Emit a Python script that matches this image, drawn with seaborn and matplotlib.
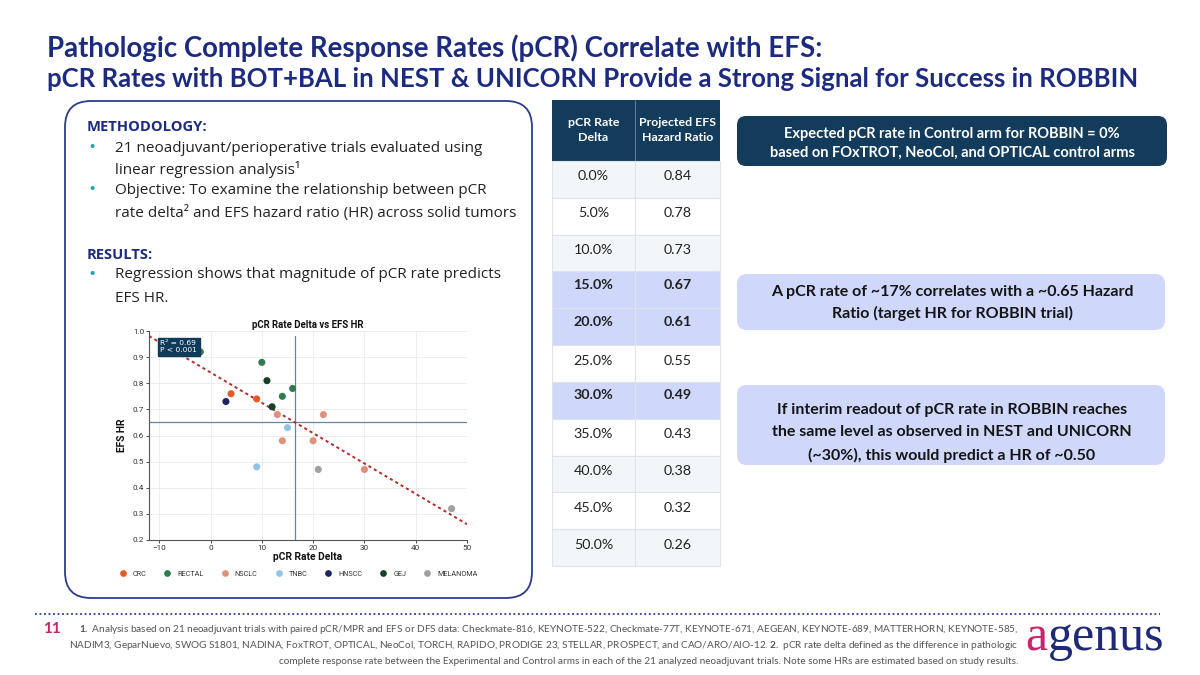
import numpy as np
import pandas as pd
import matplotlib
matplotlib.use("Agg")
import matplotlib.pyplot as plt
import seaborn as sns
from matplotlib.patches import FancyBboxPatch, Rectangle

# ---------------- data ----------------
CATEGORIES = ["CRC", "RECTAL", "NSCLC", "TNBC", "HNSCC", "GEJ", "MELANOMA"]
CAT_COLORS = ["#e35a2b", "#2f7a4e", "#e0917c", "#93c3e6", "#1b2660", "#183f2b", "#a0a0a0"]

trial_type = ["RECTAL", "RECTAL", "GEJ", "RECTAL", "RECTAL", "CRC", "CRC", "HNSCC", "GEJ",
              "NSCLC", "NSCLC", "TNBC", "NSCLC", "NSCLC", "TNBC", "MELANOMA", "NSCLC", "MELANOMA"]
pcr_delta = [-2, 10, 11, 16, 14, 4, 9, 3, 12, 13, 22, 15, 14, 20, 9, 21, 30, 47]
efs_hr = [0.92, 0.88, 0.81, 0.78, 0.75, 0.76, 0.74, 0.73, 0.71, 0.68, 0.68, 0.63, 0.58, 0.58,
          0.48, 0.47, 0.47, 0.32]

table_pcr = [0.0, 5.0, 10.0, 15.0, 20.0, 25.0, 30.0, 35.0, 40.0, 45.0, 50.0]
table_hr = [0.84, 0.78, 0.73, 0.67, 0.61, 0.55, 0.49, 0.43, 0.38, 0.32, 0.26]
highlight_pcr = [15.0, 20.0, 30.0]

TARGET_PCR = 16.5
TARGET_HR = 0.65
R2_TEXT = "R² = 0.69\nP < 0.001"

NAVY = "#1c2b80"
DARK = "#133b5c"
LAV = "#cfd7fb"

sns.set_theme(style="whitegrid")
plt.rcParams["font.family"] = ["Lato", "DejaVu Sans"]
plt.rcParams["mathtext.fontset"] = "custom"
plt.rcParams["mathtext.rm"] = "Lato"
plt.rcParams["mathtext.bf"] = "Lato:bold"

fig = plt.figure(figsize=(12, 6.75), dpi=100)
fig.patch.set_facecolor("white")
bg = fig.add_axes([0, 0, 1, 1])
bg.set_xlim(0, 1200)
bg.set_ylim(675, 0)
bg.axis("off")
renderer = fig.canvas.get_renderer()


def fit(t, width):
    w = t.get_window_extent(renderer).width
    t.set_fontsize(t.get_fontsize() * width / w)
    return t


def txt(x, y, s, size=12, **kw):
    kw.setdefault("va", "center")
    return bg.text(x, y, s, fontsize=size, **kw)


# ---------------- title ----------------
t1 = txt(47, 48, "Pathologic Complete Response Rates (pCR) Correlate with EFS:", 19,
         color=NAVY, fontweight="bold")
fit(t1, 775)
t2 = txt(47, 79, "pCR Rates with BOT+BAL in NEST & UNICORN Provide a Strong Signal for Success in ROBBIN", 19,
         color=NAVY, fontweight="bold")
fit(t2, 1088)

# ---------------- left panel ----------------
bg.add_patch(FancyBboxPatch((65, 101), 467, 497, boxstyle="round,pad=0,rounding_size=26",
                            fc="white", ec="#2d3b8e", lw=1.3, zorder=1))
body_font = ["Open Sans", "DejaVu Sans"]
ref = txt(115, 213, "rate delta² and EFS hazard ratio (HR) across solid tumors", 12,
          color="#222222", family=body_font, zorder=3)
fit(ref, 398)
bs = ref.get_fontsize()
h1 = txt(87, 127, "METHODOLOGY:", bs, color=NAVY, fontweight="bold", family=body_font, zorder=3)
fit(h1, 120)
for yy, s in [(148, "21 neoadjuvant/perioperative trials evaluated using"),
              (170, "linear regression analysis¹"),
              (190, "Objective: To examine the relationship between pCR"),
              (275, "Regression shows that magnitude of pCR rate predicts"),
              (298, "EFS HR.")]:
    txt(115, yy, s, bs, color="#222222", family=body_font, zorder=3)
for yy in [148, 190, 275]:
    txt(92, yy, "•", bs * 1.25, color="#2a9fb8", ha="center", family=body_font, zorder=3)
txt(87, 255, "RESULTS:", h1.get_fontsize(), color=NAVY, fontweight="bold", family=body_font, zorder=3)

# ---------------- table ----------------
tx0, tx1, tx2 = 552, 635, 720
bg.add_patch(Rectangle((tx0, 100), tx2 - tx0, 61, fc=DARK, ec="none", zorder=2))
bg.plot([tx1, tx1], [100, 161], color="#5d7a92", lw=0.8, zorder=3)
txt((tx0 + tx1) / 2, 130, "pCR Rate\nDelta", 8.9, color="white", fontweight="bold", ha="center",
    linespacing=1.35, zorder=3)
txt((tx1 + tx2) / 2, 130, "Projected EFS\nHazard Ratio", 8.9, color="white", fontweight="bold",
    ha="center", linespacing=1.35, zorder=3)
row_h = (566 - 161) / len(table_pcr)
for i, (p, hr) in enumerate(zip(table_pcr, table_hr)):
    y0 = 161 + i * row_h
    hl = p in highlight_pcr
    fc = LAV if hl else ("#f3f6f9" if i % 2 == 0 else "white")
    bg.add_patch(Rectangle((tx0, y0), tx2 - tx0, row_h, fc=fc, ec="#dfe4ea", lw=0.8, zorder=2))
    bg.plot([tx1, tx1], [y0, y0 + row_h], color="#dfe4ea", lw=0.8, zorder=3)
    dy = -5 if hl else -3
    w = "bold" if hl else "normal"
    txt((tx0 + tx1) / 2, y0 + row_h / 2 + dy, f"{p:.1f}%", 10.3, ha="center", color="#222222",
        fontweight=w, zorder=3)
    txt((tx1 + tx2) / 2, y0 + row_h / 2 + dy, f"{hr:.2f}", 10.3, ha="center", color="#222222",
        fontweight=w, zorder=3)

# ---------------- right boxes ----------------
bg.add_patch(FancyBboxPatch((737, 116), 430, 50, boxstyle="round,pad=0,rounding_size=9",
                            fc=DARK, ec="none", zorder=2))
b1 = txt(952, 134, "Expected pCR rate in Control arm for ROBBIN = 0%", 10, ha="center",
         color="white", fontweight="bold", zorder=3)
b2 = txt(952, 153, "based on FOxTROT, NeoCol, and OPTICAL control arms", 10, ha="center",
         color="white", fontweight="bold", zorder=3)
fit(b2, 365)
b1.set_fontsize(b2.get_fontsize())

bg.add_patch(FancyBboxPatch((737, 274), 428, 56, boxstyle="round,pad=0,rounding_size=10",
                            fc=LAV, ec="none", zorder=2))
c1 = txt(952, 292, "A pCR rate of ~17% correlates with a ~0.65 Hazard", 12, ha="center",
         color="#151515", fontweight="bold", zorder=3)
fit(c1, 361)
txt(952, 313, "Ratio (target HR for ROBBIN trial)", c1.get_fontsize(), ha="center",
    color="#151515", fontweight="bold", zorder=3)

bg.add_patch(FancyBboxPatch((737, 385), 428, 80, boxstyle="round,pad=0,rounding_size=10",
                            fc=LAV, ec="none", zorder=2))
d2 = txt(952, 432, "the same level as observed in NEST and UNICORN", 12, ha="center",
         color="#151515", fontweight="bold", zorder=3)
fit(d2, 360)
txt(952, 410, "If interim readout of pCR rate in ROBBIN reaches", d2.get_fontsize(), ha="center",
    color="#151515", fontweight="bold", zorder=3)
txt(952, 455, "(~30%), this would predict a HR of ~0.50", d2.get_fontsize(), ha="center",
    color="#151515", fontweight="bold", zorder=3)

# ---------------- footer ----------------
bg.plot([35, 1160], [614, 614], color="#2d3b8e", lw=1.3, linestyle=(0, (1, 1.5)))
txt(43, 629, "11", 11, color="#d0206a", fontweight="bold")
f1 = txt(1018, 629, r"$\bf{1.}$ Analysis based on 21 neoadjuvant trials with paired pCR/MPR and EFS or DFS data: "
         "Checkmate-816, KEYNOTE-522, Checkmate-77T, KEYNOTE-671, AEGEAN, KEYNOTE-689, MATTERHORN, KEYNOTE-585,",
         7.5, ha="right", color="#555555")
fit(f1, 930)
fs = f1.get_fontsize()
txt(1018, 645, r"NADIM3, GeparNuevo, SWOG S1801, NADINA, FoxTROT, OPTICAL, NeoCol, TORCH, RAPIDO, PRODIGE 23, "
    r"STELLAR, PROSPECT, and CAO/ARO/AIO-12. $\bf{2.}$ pCR rate delta defined as the difference in pathologic",
    fs, ha="right", color="#555555")
txt(1018, 661, "complete response rate between the Experimental and Control arms in each of the 21 analyzed "
    "neoadjuvant trials. Note some HRs are estimated based on study results.", fs, ha="right", color="#555555")

la = txt(1025, 638, "a", 30, color="#c8246c", family=["Liberation Serif", "DejaVu Serif"])
ext = la.get_window_extent(renderer)
lg = txt(ext.x1 + 1, 638, "genus", 30, color="#1e2a78", family=["Liberation Serif", "DejaVu Serif"])
full_w = lg.get_window_extent(renderer).x1 - ext.x0
scale = 140 / full_w
la.set_fontsize(30 * scale)
ext = la.get_window_extent(renderer)
lg.set_fontsize(30 * scale)
lg.set_x(ext.x1 + 1)

# ---------------- scatter chart ----------------
ax = fig.add_axes([149 / 1200, 1 - 540 / 675, 318 / 1200, 209 / 675])
ax.set_facecolor("white")
df = pd.DataFrame({"pCR Rate Delta": pcr_delta, "EFS HR": efs_hr, "Type": trial_type})
sns.scatterplot(data=df, x="pCR Rate Delta", y="EFS HR", hue="Type", hue_order=CATEGORIES,
                palette=dict(zip(CATEGORIES, CAT_COLORS)), s=26, linewidth=0, ax=ax, zorder=4)
ax.set_xlim(-12, 50)
ax.set_ylim(0.2, 1.0)
coef = np.polyfit(table_pcr, table_hr, 1)
xs = np.array(ax.get_xlim())
ax.plot(xs, np.polyval(coef, xs), color="#b52a2a", lw=1.4, linestyle=(0, (1.6, 1.6)), zorder=3)
ax.axvline(TARGET_PCR, ymax=0.975, color="#6585a0", lw=0.9, zorder=2)
ax.axhline(TARGET_HR, color="#6585a0", lw=0.9, zorder=2)
ax.set_xticks(np.arange(-10, 51, 10))
ax.set_yticks(np.arange(0.2, 1.01, 0.1))
ax.set_yticklabels([f"{v:.1f}" for v in np.arange(0.2, 1.01, 0.1)])
ax.set_xticklabels(["−10", "0", "10", "20", "30", "40", "50"])
ax.tick_params(labelsize=5.9, length=2, width=0.6, colors="#333333", pad=1.5, left=True, bottom=True)
for lab in ax.get_xticklabels() + ax.get_yticklabels():
    lab.set_family(["Roboto", "DejaVu Sans"])
ax.grid(True, color="#ebebeb", lw=0.6)
for sp in ["top", "right"]:
    ax.spines[sp].set_visible(False)
for sp in ["left", "bottom"]:
    ax.spines[sp].set_color("#555555")
    ax.spines[sp].set_linewidth(0.8)
ax.set_title("pCR Rate Delta vs EFS HR", fontsize=6.9, fontweight="bold", pad=2,
             family=["Roboto", "DejaVu Sans"], color="#111111")
ax.set_xlabel("pCR Rate Delta", fontsize=7.4, fontweight="bold", labelpad=1,
              family=["Roboto", "DejaVu Sans"], color="#111111")
ax.set_ylabel("EFS HR", fontsize=7.4, fontweight="bold", labelpad=4,
              family=["Roboto", "DejaVu Sans"], color="#111111")
ax.text(0.035, 0.925, R2_TEXT, transform=ax.transAxes, fontsize=5.4, color="white", va="center",
        ha="left", family=["DejaVu Sans"], zorder=6, linespacing=1.1,
        bbox=dict(boxstyle="square,pad=0.35", fc="#0f3a5a", ec="#0f3a5a"))
leg = ax.legend(loc="upper center", bbox_to_anchor=(0.47, -0.115), ncol=7, frameon=False,
                fontsize=5.2, handletextpad=0.9, columnspacing=2.4, markerscale=0.95,
                handlelength=1.0)
for t in leg.get_texts():
    t.set_family(["Roboto", "DejaVu Sans"])
    t.set_color("#333333")

fig.savefig("out.png", dpi=100, facecolor="white")
